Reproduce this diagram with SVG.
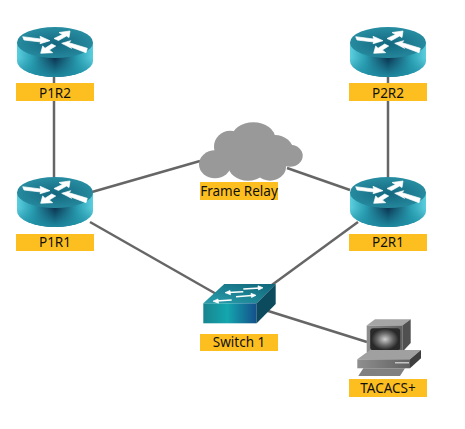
<svg xmlns="http://www.w3.org/2000/svg" width="465" height="429" viewBox="0 0 465 429">
<defs>
<style>
.lbl{fill:#fdbf1f}
text{font-family:"Noto Sans","Open Sans",sans-serif;font-size:13.5px;fill:#111;text-anchor:middle}
.link{stroke:#666;stroke-width:2.5;fill:none}
.arw{fill:#fff;stroke:#fff;stroke-width:.7;stroke-linejoin:round}
.sarw{stroke:#fff;stroke-width:1.5;fill:none}
</style>
<linearGradient id="rb" x1="0" y1="0" x2="1" y2="0">
<stop offset="0" stop-color="#5ccfdf"/><stop offset=".2" stop-color="#2a9fb3"/><stop offset=".5" stop-color="#0b3350"/><stop offset=".8" stop-color="#2a9fb3"/><stop offset="1" stop-color="#5ccfdf"/>
</linearGradient>
<linearGradient id="rs" x1="0" y1="0" x2="0" y2="1">
<stop offset=".45" stop-color="#1f8ea4" stop-opacity="0"/><stop offset="1" stop-color="#1f8ea4" stop-opacity=".95"/>
</linearGradient>
<radialGradient id="rt" cx=".5" cy=".55" r=".62">
<stop offset="0" stop-color="#13677f"/><stop offset="1" stop-color="#2b93a6"/>
</radialGradient>
<linearGradient id="sf" x1="0" y1="0" x2="1" y2="0">
<stop offset="0" stop-color="#17858f"/><stop offset=".45" stop-color="#14a6ae"/><stop offset="1" stop-color="#144f8a"/>
</linearGradient>
<linearGradient id="st" x1="0" y1="1" x2="1" y2="0">
<stop offset="0" stop-color="#2aa0ae"/><stop offset="1" stop-color="#0f6478"/>
</linearGradient>
<radialGradient id="crt" cx=".5" cy=".5" r=".55">
<stop offset="0" stop-color="#d0d0d0"/><stop offset=".5" stop-color="#6a6a6a"/><stop offset="1" stop-color="#151515"/>
</radialGradient>
<linearGradient id="cf" x1="0" y1="0" x2="1" y2="0">
<stop offset="0" stop-color="#8f8f8f"/><stop offset="1" stop-color="#606060"/>
</linearGradient>
<g id="router">
<path id="rbody" d="M-38 15.500V34A38 16 0 0 0 38 34V15.500Z" fill="url(#rb)"/>
<path d="M-38 15.500V34A38 16 0 0 0 38 34V15.500Z" fill="url(#rs)"/>
<ellipse cx="0" cy="15.500" rx="38" ry="15.500" fill="url(#rt)"/>
<path class="arw" d="M-32.300 9.700L-14.300 12L-15 9.300L-5 13.700L-15 16.700L-14.300 15L-31 13Z"/>
<path class="arw" d="M15 4L4 5.500L7.500 7.500L-1 11.500L3.500 13.500L11.500 9L14 10.500Z"/>
<path class="arw" d="M6.700 16.300L15.700 13.700L14 15.700L32.300 21.300L31 25.700L13.300 19L16.700 21.300Z"/>
<path class="arw" d="M-14.300 26.300L-2.300 25.700L-5.700 23L.7 19L-3.300 17L-10 21.300L-12.300 19Z"/>
</g>
</defs>
<g id="connectors">
<line class="link" x1="54" y1="77" x2="54" y2="178"/>
<line class="link" x1="388" y1="77" x2="388" y2="178"/>
<line class="link" x1="92" y1="192" x2="200" y2="161"/>
<line class="link" x1="287" y1="168" x2="350" y2="190"/>
<line class="link" x1="90" y1="222" x2="218" y2="295"/>
<line class="link" x1="358" y1="222" x2="265" y2="290"/>
<line class="link" x1="265" y1="310" x2="367" y2="342"/>
</g>
<g id="P1R2"><use href="#router" x="55" y="27"/><rect class="lbl" x="16" y="83" width="78" height="18"/><text x="55" y="98">P1R2</text></g>
<g id="P2R2"><use href="#router" x="388" y="27"/><rect class="lbl" x="349" y="83" width="78" height="18"/><text x="388" y="98">P2R2</text></g>
<g id="P1R1"><use href="#router" x="55" y="177"/><rect class="lbl" x="16" y="234" width="78" height="17"/><text x="55" y="247">P1R1</text></g>
<g id="P2R1"><use href="#router" x="388" y="177"/><rect class="lbl" x="349" y="234" width="78" height="17"/><text x="388" y="247">P2R1</text></g>
<g id="FrameRelay">
<g fill="#999">
<ellipse cx="215" cy="164.300" rx="16" ry="14"/>
<ellipse cx="230" cy="146.700" rx="16" ry="16"/>
<ellipse cx="253.300" cy="138.300" rx="22" ry="16"/>
<ellipse cx="275" cy="150" rx="18" ry="15"/>
<ellipse cx="290" cy="155.700" rx="12.700" ry="11"/>
<ellipse cx="270" cy="166.700" rx="16" ry="14"/>
<ellipse cx="248" cy="165" rx="20" ry="15.700"/>
<rect x="225" y="140" width="50" height="30"/>
</g>
<rect class="lbl" x="200" y="182" width="78" height="18"/><text x="239" y="196">Frame Relay</text>
</g>
<g id="Switch1">
<path d="M203.300 303.300L224.300 284H275.700L256.700 303.300Z" fill="url(#st)"/>
<rect x="203.300" y="303.300" width="53.400" height="20" fill="url(#sf)"/>
<path d="M275.700 284V304L256.700 323.300V303.300Z" fill="#0c4a5e"/>
<g class="sarw">
<path d="M243.300 289L260 288"/>
<path d="M228 292.500L243.300 291.700"/>
<path d="M236 296.700L252 295.500"/>
<path d="M216 301L231.700 300"/>
</g>
<g class="arw">
<path d="M263 287.800L258 285.800L258.500 290Z"/>
<path d="M225 292.700L230 290.500L230.500 294.700Z"/>
<path d="M256 295.300L251 293.300L251.500 297.500Z"/>
<path d="M213 301.200L218 299L218.500 303.200Z"/>
</g>
<rect class="lbl" x="200" y="334" width="78" height="17"/><text x="239" y="347">Switch 1</text>
</g>
<g id="TACACS">
<path d="M366.700 325.500L375 319.300H410.700L402.300 325.500Z" fill="#a5a5a5"/>
<path d="M402.300 325.500L410.700 319.300V343L402.300 352Z" fill="#505050"/>
<rect x="366.700" y="325.500" width="35.600" height="26.500" fill="url(#cf)"/>
<rect x="370.200" y="328.300" width="30" height="22" rx="3" fill="#2a2a2a"/>
<ellipse cx="385" cy="339.300" rx="14" ry="11" fill="url(#crt)"/>
<path d="M357.300 359.300L370 350H421L410 359.300Z" fill="#a0a0a0"/>
<path d="M410 359.300L421 350V358.300L410 368.300Z" fill="#3e3e3e"/>
<rect x="357.300" y="359.300" width="52.700" height="9" fill="url(#cf)"/>
<rect x="395" y="362" width="14" height="1.500" fill="#c4c4c4"/>
<path d="M363.300 368.300H405L400 376H358.300Z" fill="#808080"/>
<rect class="lbl" x="349" y="379" width="78" height="18"/><text x="388" y="393">TACACS+</text>
</g>
</svg>
